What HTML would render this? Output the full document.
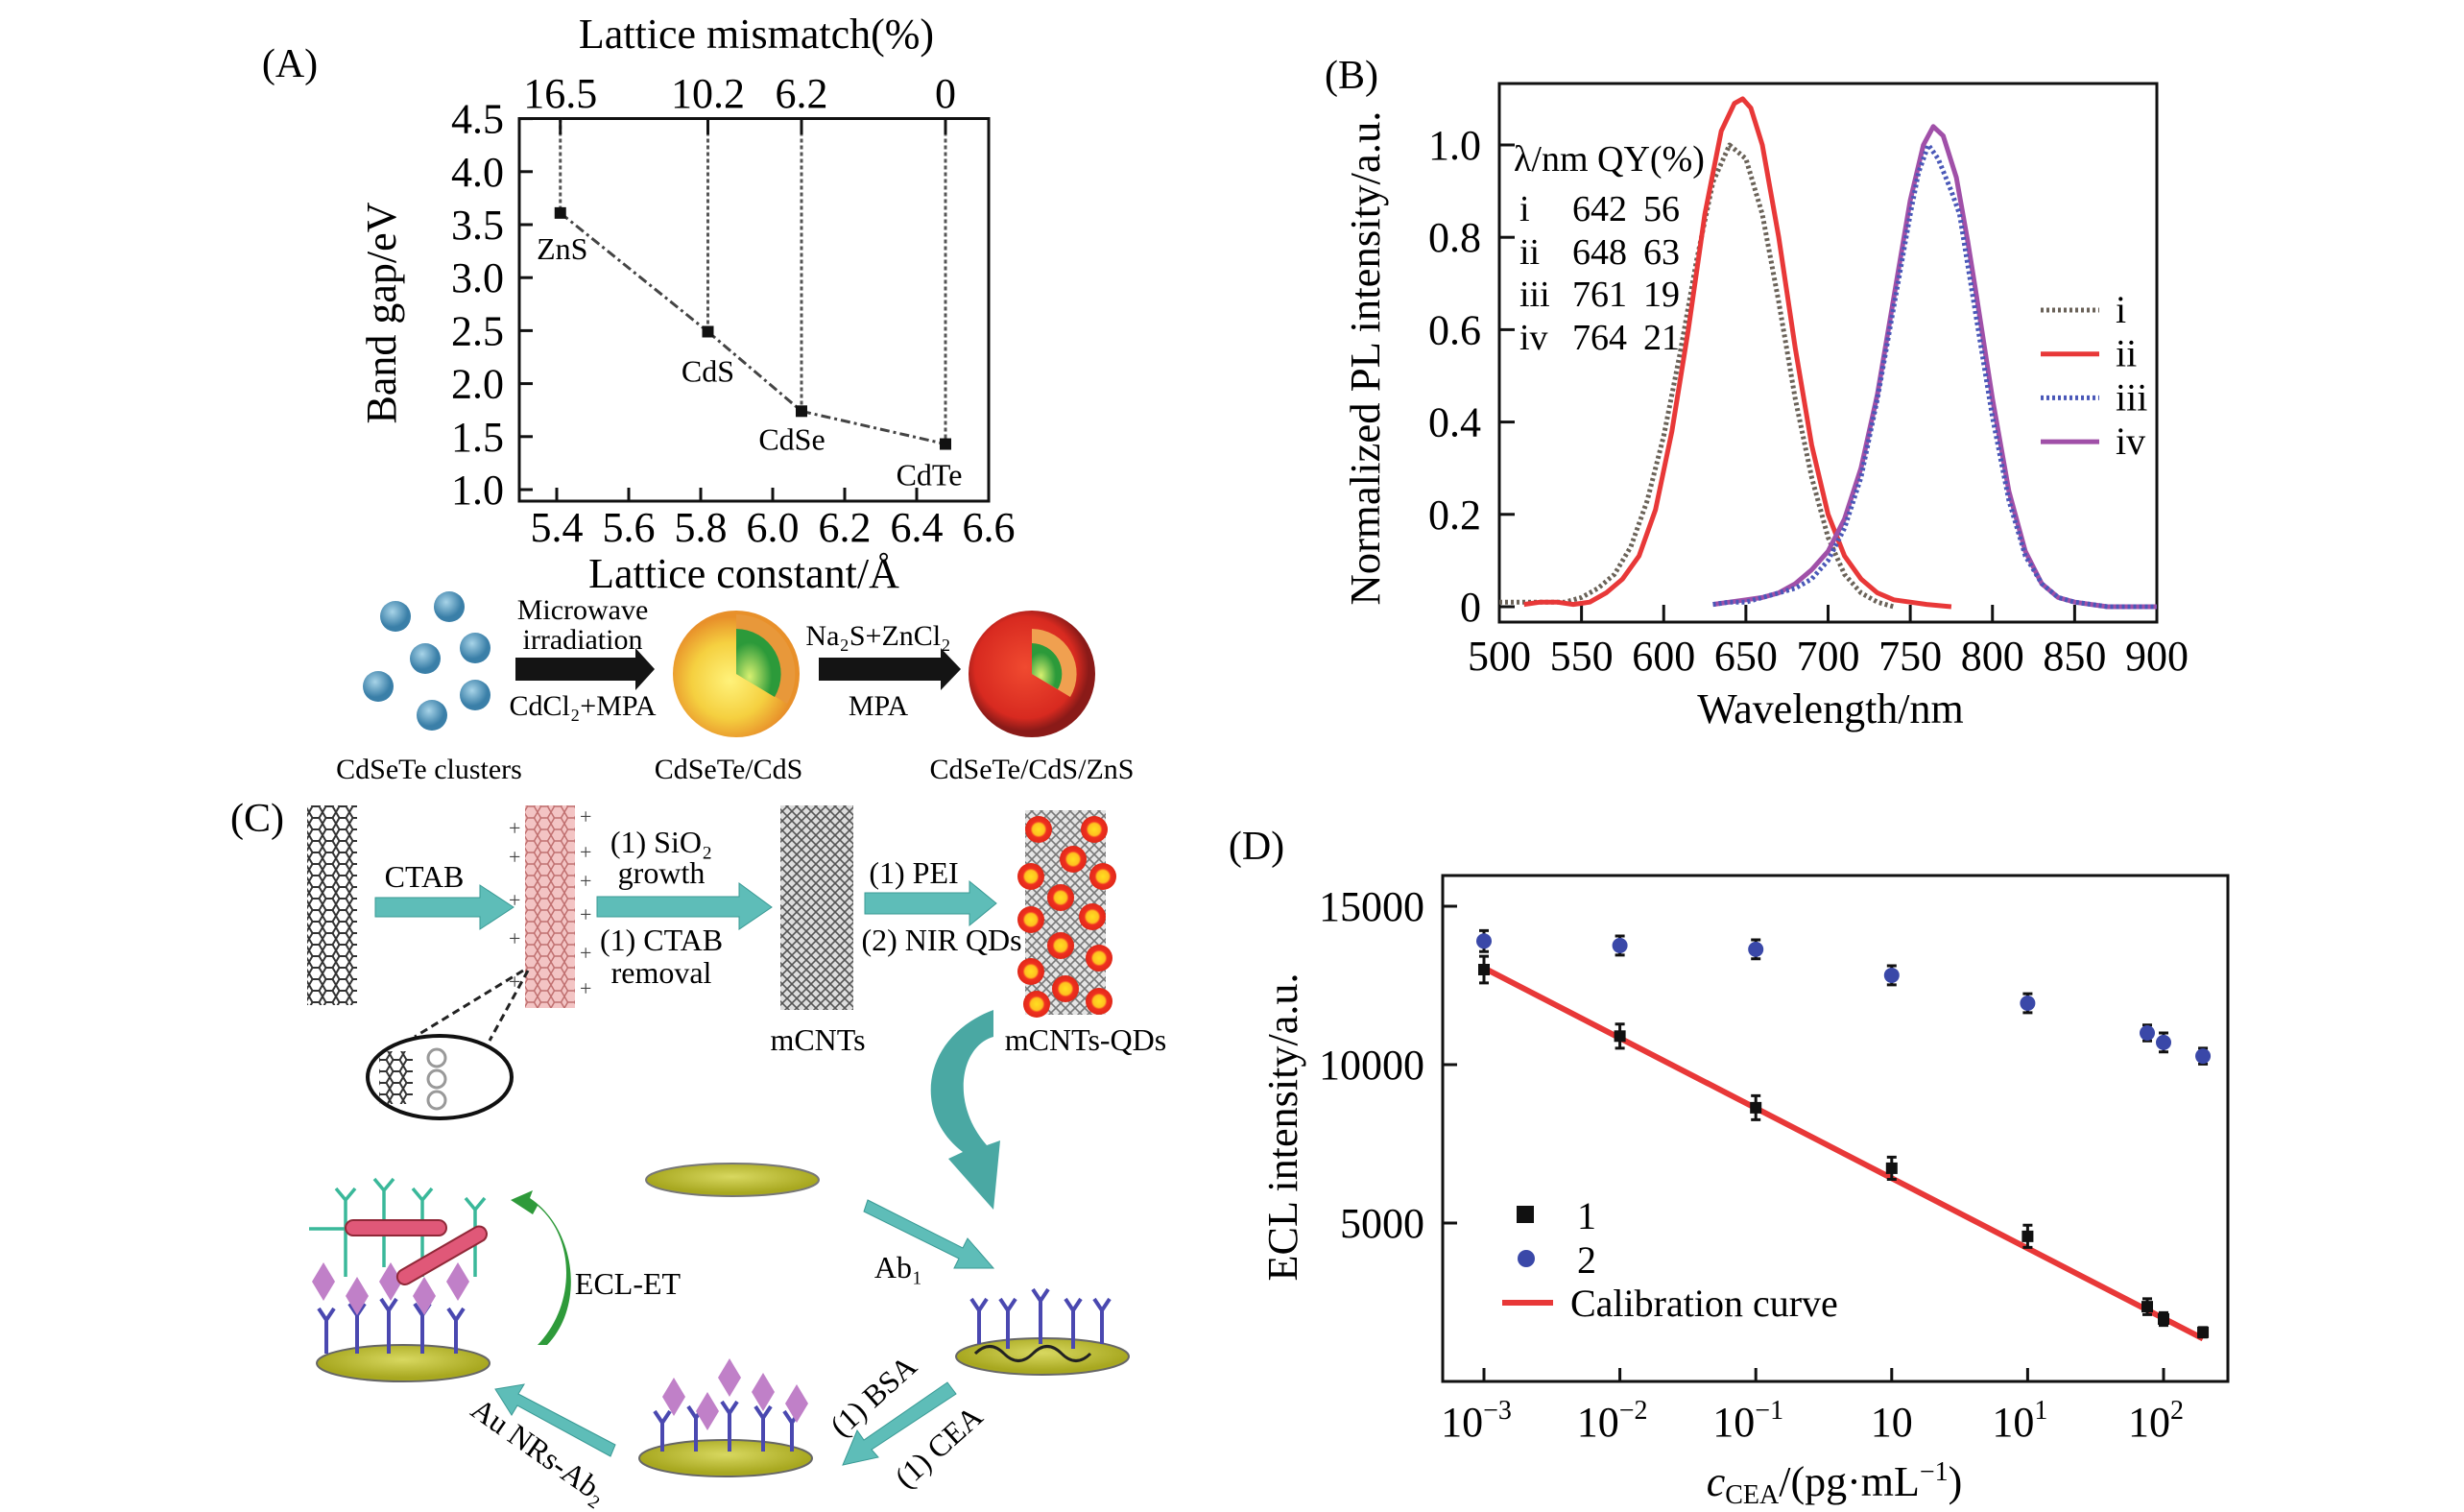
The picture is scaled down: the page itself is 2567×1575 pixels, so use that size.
<!DOCTYPE html>
<html><head><meta charset="utf-8"><style>
html,body{margin:0;padding:0;background:#fff;}
svg{display:block;font-family:"Liberation Serif","Times New Roman",serif;}
</style></head><body>
<svg id="fig" width="2567" height="1575" viewBox="0 0 2567 1575" xmlns="http://www.w3.org/2000/svg" font-family="Liberation Serif, serif">
<defs>
<pattern id="hex" width="14" height="12" patternUnits="userSpaceOnUse">
<path d="M0 6 L3.5 0 L10.5 0 L14 6 L10.5 12 L3.5 12 Z" fill="none" stroke="#333" stroke-width="2"/>
</pattern>
<pattern id="hexp" width="14" height="12" patternUnits="userSpaceOnUse">
<rect width="14" height="12" fill="#f3c4c4"/>
<path d="M0 6 L3.5 0 L10.5 0 L14 6 L10.5 12 L3.5 12 Z" fill="none" stroke="#c07070" stroke-width="1.5"/>
</pattern>
<pattern id="mesh" width="10" height="10" patternUnits="userSpaceOnUse">
<rect width="10" height="10" fill="#ddd"/>
<path d="M0 0 L10 10 M10 0 L0 10" stroke="#555" stroke-width="1.6"/>
</pattern>
<radialGradient id="blue" cx="40%" cy="35%"><stop offset="0" stop-color="#a8d4e8"/><stop offset="1" stop-color="#3a7fa8"/></radialGradient>
<radialGradient id="orng" cx="45%" cy="55%"><stop offset="0" stop-color="#fff27a"/><stop offset="0.6" stop-color="#f5d040"/><stop offset="1" stop-color="#e8902a"/></radialGradient>
<radialGradient id="redg" cx="45%" cy="45%"><stop offset="0" stop-color="#f04a30"/><stop offset="0.8" stop-color="#d82a20"/><stop offset="1" stop-color="#8a1a18"/></radialGradient>
<radialGradient id="grn" cx="30%" cy="70%"><stop offset="0" stop-color="#d8f070"/><stop offset="1" stop-color="#2c9a3a"/></radialGradient>
<radialGradient id="qd"><stop offset="0" stop-color="#ffe020"/><stop offset="0.45" stop-color="#ffc020"/><stop offset="0.6" stop-color="#f03020"/><stop offset="1" stop-color="#e02818"/></radialGradient>
<radialGradient id="gold" cx="50%" cy="40%"><stop offset="0" stop-color="#d8d860"/><stop offset="1" stop-color="#a8a820"/></radialGradient>
</defs>

<!-- ============ Panel A ============ -->
<g id="panelA" font-size="44">
<text x="302" y="80" text-anchor="middle" font-size="42">(A)</text>
<text x="788" y="50" text-anchor="middle" font-size="44">Lattice mismatch(%)</text>
<text x="775" y="612" text-anchor="middle" font-size="44">Lattice constant/Å</text>
<text transform="translate(412,326) rotate(-90)" text-anchor="middle" font-size="44">Band gap/eV</text>
<rect x="541" y="123.5" width="489" height="398.5" fill="none" stroke="#111" stroke-width="3"/>
<g id="aAxes"></g>
<g id="aMarks"></g>
</g>

<!-- Schematic A -->
<g>
<g>
<circle cx="412" cy="642" r="16" fill="url(#blue)"/><circle cx="468" cy="632" r="16" fill="url(#blue)"/>
<circle cx="443" cy="686" r="16" fill="url(#blue)"/><circle cx="495" cy="675" r="16" fill="url(#blue)"/>
<circle cx="394" cy="715" r="16" fill="url(#blue)"/><circle cx="495" cy="724" r="16" fill="url(#blue)"/>
<circle cx="450" cy="745" r="16" fill="url(#blue)"/>
</g>
<path d="M537 685 L662 685 L662 675 L682 697 L662 719 L662 709 L537 709 Z" fill="#141414"/>
<text x="607" y="645" text-anchor="middle" font-size="30">Microwave</text>
<text x="607" y="676" text-anchor="middle" font-size="30">irradiation</text>
<text x="607" y="745" text-anchor="middle" font-size="30">CdCl₂+MPA</text>
<g>
<circle cx="767" cy="702" r="66" fill="url(#orng)"/>
<path d="M767 702 L767 640 A62 62 0 0 1 820 733 Z" fill="#e8983a"/>
<path d="M767 702 L767 655 A47 47 0 0 1 807 726 Z" fill="url(#grn)"/>
</g>
<path d="M853 685 L980 685 L980 675 L1001 697 L980 719 L980 709 L853 709 Z" fill="#141414"/>
<text x="915" y="672" text-anchor="middle" font-size="30">Na₂S+ZnCl₂</text>
<text x="915" y="745" text-anchor="middle" font-size="30">MPA</text>
<g>
<circle cx="1075" cy="702" r="66" fill="url(#redg)"/>
<path d="M1075 702 L1075 655 A47 47 0 0 1 1115 726 Z" fill="#f0a050"/>
<path d="M1075 702 L1075 670 A32 32 0 0 1 1102 718 Z" fill="url(#grn)"/>
</g>
<text x="447" y="811" text-anchor="middle" font-size="30">CdSeTe clusters</text>
<text x="759" y="811" text-anchor="middle" font-size="30">CdSeTe/CdS</text>
<text x="1075" y="811" text-anchor="middle" font-size="30">CdSeTe/CdS/ZnS</text>
</g>

<!-- ============ Panel C ============ -->
<g font-size="32">
<text x="268" y="866" text-anchor="middle" font-size="42">(C)</text>
<rect x="320" y="839" width="52" height="208" fill="url(#hex)"/>
<path d="M391 935 L500 935 L500 922 L535 945 L500 968 L500 955 L391 955 Z" fill="#5ebdb8" stroke="#3a9a95"/>
<text x="442" y="924" text-anchor="middle">CTAB</text>
<rect x="547" y="839" width="52" height="211" fill="url(#hexp)"/>
<g font-size="22" fill="#444">
<text x="530" y="870">+</text><text x="530" y="900">+</text><text x="530" y="945">+</text><text x="530" y="985">+</text><text x="530" y="1030">+</text>
<text x="604" y="858">+</text><text x="604" y="895">+</text><text x="604" y="925">+</text><text x="604" y="960">+</text><text x="604" y="1000">+</text><text x="604" y="1037">+</text>
</g>
<path d="M622 934 L770 934 L770 920 L804 945 L770 968 L770 955 L622 955 Z" fill="#5ebdb8" stroke="#3a9a95"/>
<text x="689" y="888" text-anchor="middle">(1) SiO₂</text>
<text x="689" y="920" text-anchor="middle">growth</text>
<text x="689" y="990" text-anchor="middle">(1) CTAB</text>
<text x="689" y="1024" text-anchor="middle">removal</text>
<rect x="813" y="839" width="76" height="213" fill="url(#mesh)"/>
<text x="852" y="1094" text-anchor="middle">mCNTs</text>
<path d="M901 930 L1010 930 L1010 918 L1038 941 L1010 964 L1010 952 L901 952 Z" fill="#5ebdb8" stroke="#3a9a95"/>
<text x="952" y="920" text-anchor="middle">(1) PEI</text>
<text x="981" y="990" text-anchor="middle">(2) NIR QDs</text>
<g>
<rect x="1068" y="844" width="84" height="213" fill="url(#mesh)" opacity="0.8"/>
<g fill="url(#qd)">
<circle cx="1082" cy="864" r="14"/><circle cx="1140" cy="864" r="14"/><circle cx="1118" cy="895" r="14"/>
<circle cx="1074" cy="913" r="14"/><circle cx="1149" cy="913" r="14"/><circle cx="1105" cy="935" r="14"/>
<circle cx="1074" cy="958" r="14"/><circle cx="1138" cy="955" r="14"/><circle cx="1105" cy="985" r="14"/>
<circle cx="1145" cy="998" r="14"/><circle cx="1074" cy="1012" r="14"/><circle cx="1110" cy="1030" r="14"/>
<circle cx="1080" cy="1046" r="14"/><circle cx="1145" cy="1043" r="14"/>
</g></g>
<text x="1131" y="1094" text-anchor="middle">mCNTs-QDs</text>
<g>
<line x1="545" y1="1011" x2="432" y2="1080" stroke="#222" stroke-width="3" stroke-dasharray="8,5"/>
<line x1="550" y1="1011" x2="510" y2="1084" stroke="#222" stroke-width="3" stroke-dasharray="8,5"/>
<ellipse cx="458" cy="1122" rx="75" ry="43" fill="#fff" stroke="#111" stroke-width="4"/>
<rect x="395" y="1095" width="35" height="55" fill="url(#hex)"/>
<circle cx="455" cy="1102" r="9" fill="none" stroke="#999" stroke-width="3"/>
<circle cx="455" cy="1124" r="9" fill="none" stroke="#999" stroke-width="3"/>
<circle cx="455" cy="1146" r="9" fill="none" stroke="#999" stroke-width="3"/>
</g>
<path d="M1035 1052 C960 1080 950 1160 1003 1200 L988 1207 L1035 1260 L1042 1188 L1028 1193 C990 1150 1000 1090 1035 1080 Z" fill="#4aa8a3"/>
<ellipse cx="763" cy="1229" rx="90" ry="17" fill="url(#gold)" stroke="#777" stroke-width="2"/>
<path d="M904 1250 L1003 1300 L1008 1290 L1035 1321 L994 1321 L999 1311 L900 1262 Z" fill="#5ebdb8" stroke="#3a9a95"/>
<text x="936" y="1331" text-anchor="middle">Ab₁</text>
<g>
<ellipse cx="1086" cy="1413" rx="90" ry="19" fill="url(#gold)" stroke="#666" stroke-width="2"/>
<path d="M1016 1410 q15 -15 30 0 t30 0 t30 0 t30 0" fill="none" stroke="#222" stroke-width="3"/>
<g stroke="#4a48b0" stroke-width="4" fill="none">
<path d="M1020 1400 v-35 m0 0 l-8 -12 m8 12 l8 -12"/><path d="M1050 1405 v-40 m0 0 l-8 -12 m8 12 l8 -12"/>
<path d="M1084 1400 v-45 m0 0 l-8 -12 m8 12 l8 -12"/><path d="M1118 1405 v-40 m0 0 l-8 -12 m8 12 l8 -12"/>
<path d="M1148 1400 v-35 m0 0 l-8 -12 m8 12 l8 -12"/>
</g></g>
<path d="M987 1440 L900 1500 L893 1490 L878 1526 L915 1518 L908 1510 L996 1452 Z" fill="#5ebdb8" stroke="#3a9a95"/>
<text transform="translate(917,1462) rotate(-42)" text-anchor="middle">(1) BSA</text>
<text transform="translate(985,1515) rotate(-42)" text-anchor="middle">(1) CEA</text>
<g>
<ellipse cx="756" cy="1519" rx="90" ry="19" fill="url(#gold)" stroke="#666" stroke-width="2"/>
<g stroke="#4a48b0" stroke-width="4" fill="none">
<path d="M690 1512 v-30 m0 0 l-8 -12 m8 12 l8 -12"/><path d="M725 1512 v-35 m0 0 l-8 -12 m8 12 l8 -12"/>
<path d="M760 1512 v-40 m0 0 l-8 -12 m8 12 l8 -12"/><path d="M795 1512 v-35 m0 0 l-8 -12 m8 12 l8 -12"/>
<path d="M825 1512 v-30 m0 0 l-8 -12 m8 12 l8 -12"/>
</g>
<g fill="#c080c8">
<path d="M690 1455 l12 -20 l12 20 l-12 20 Z"/><path d="M725 1470 l12 -20 l12 20 l-12 20 Z"/>
<path d="M748 1435 l12 -20 l12 20 l-12 20 Z"/><path d="M783 1450 l12 -20 l12 20 l-12 20 Z"/>
<path d="M818 1462 l12 -20 l12 20 l-12 20 Z"/>
</g></g>
<path d="M641 1505 L540 1452 L546 1442 L516 1447 L533 1474 L539 1464 L636 1517 Z" fill="#5ebdb8" stroke="#3a9a95"/>
<text transform="translate(556,1520) rotate(35)" text-anchor="middle">Au NRs-Ab₂</text>
<g>
<ellipse cx="420" cy="1420" rx="90" ry="19" fill="url(#gold)" stroke="#666" stroke-width="2"/>
<g stroke="#4a48b0" stroke-width="4" fill="none">
<path d="M340 1410 v-35 m0 0 l-8 -12 m8 12 l8 -12"/><path d="M372 1410 v-40 m0 0 l-8 -12 m8 12 l8 -12"/>
<path d="M405 1410 v-45 m0 0 l-8 -12 m8 12 l8 -12"/><path d="M440 1410 v-40 m0 0 l-8 -12 m8 12 l8 -12"/>
<path d="M475 1410 v-35 m0 0 l-8 -12 m8 12 l8 -12"/>
</g>
<g fill="#c080c8">
<path d="M325 1335 l12 -20 l12 20 l-12 20 Z"/><path d="M360 1350 l12 -20 l12 20 l-12 20 Z"/>
<path d="M395 1335 l12 -20 l12 20 l-12 20 Z"/><path d="M430 1350 l12 -20 l12 20 l-12 20 Z"/>
<path d="M465 1335 l12 -20 l12 20 l-12 20 Z"/>
</g>
<g stroke="#3ab89a" stroke-width="3.5" fill="none">
<path d="M360 1330 v-80 m0 0 l-10 -12 m10 12 l10 -12"/><path d="M400 1320 v-80 m0 0 l-10 -12 m10 12 l10 -12"/>
<path d="M440 1330 v-80 m0 0 l-10 -12 m10 12 l10 -12"/><path d="M495 1330 v-70 m0 0 l-10 -12 m10 12 l10 -12"/>
<path d="M322 1280 h40"/>
</g>
<rect x="360" y="1271" width="105" height="16" rx="8" fill="#e05878" stroke="#902838" stroke-width="2"/>
<rect x="408" y="1300" width="105" height="16" rx="8" fill="#e05878" stroke="#902838" stroke-width="2" transform="rotate(-30 460 1308)"/>
</g>
<path d="M560 1401 C600 1360 600 1290 560 1256 L555 1265 L532 1250 L555 1240 L552 1248 C600 1280 610 1360 570 1401 Z" fill="#2e9a3a"/>
<text x="654" y="1348" text-anchor="middle">ECL-ET</text>
</g>

<!-- ============ Panel B ============ -->
<g id="panelB" font-size="44">
<text x="1408" y="92" text-anchor="middle" font-size="42">(B)</text>
<text x="1907" y="753" text-anchor="middle" font-size="44">Wavelength/nm</text>
<text transform="translate(1437,373) rotate(-90)" text-anchor="middle" font-size="44" textLength="515" lengthAdjust="spacingAndGlyphs">Normalized PL intensity/a.u.</text>
<rect x="1562" y="87" width="685" height="561" fill="none" stroke="#111" stroke-width="3"/>
<g id="bAxes"></g>
<g id="bMarks"></g>
<g font-size="38">
<text x="1577" y="178">λ/nm QY(%)</text>
<text x="1583" y="230">i</text><text x="1638" y="230">642</text><text x="1712" y="230">56</text>
<text x="1583" y="275">ii</text><text x="1638" y="275">648</text><text x="1712" y="275">63</text>
<text x="1583" y="319">iii</text><text x="1638" y="319">761</text><text x="1712" y="319">19</text>
<text x="1583" y="364">iv</text><text x="1638" y="364">764</text><text x="1712" y="364">21</text>
</g>
<g id="bLegend" font-size="40"></g>
</g>

<!-- ============ Panel D ============ -->
<g id="panelD" font-size="44">
<text x="1309" y="895" text-anchor="middle" font-size="42">(D)</text>
<text x="1911" y="1558" text-anchor="middle" font-size="44"><tspan font-style="italic">c</tspan><tspan font-size="28" dy="8">CEA</tspan><tspan dy="-8">/(pg·mL</tspan><tspan font-size="28" dy="-16">−1</tspan><tspan dy="16">)</tspan></text>
<text transform="translate(1351,1174) rotate(-90)" text-anchor="middle" font-size="44" textLength="321" lengthAdjust="spacingAndGlyphs">ECL intensity/a.u.</text>
<rect x="1503" y="912" width="818" height="527" fill="none" stroke="#111" stroke-width="3"/>
<g id="dAxes"></g>
<g id="dMarks"></g>
<g>
<rect x="1580" y="1256" width="18" height="18" fill="#111"/>
<text x="1643" y="1280" font-size="40">1</text>
<circle cx="1590" cy="1311" r="9" fill="#3a48a8"/>
<text x="1643" y="1326" font-size="40">2</text>
<line x1="1565" y1="1357" x2="1618" y2="1357" stroke="#e83838" stroke-width="6"/>
<text x="1636" y="1371" font-size="40">Calibration curve</text>
</g>
</g>

<script>
// ---------- Panel A data ----------
const aXTicks = [5.4, 5.6, 5.8, 6.0, 6.2, 6.4, 6.6];
const aYTicks = [1.0, 1.5, 2.0, 2.5, 3.0, 3.5, 4.0, 4.5];
const aMaterials = ["ZnS", "CdS", "CdSe", "CdTe"];
const aLattice = [5.41, 5.82, 6.08, 6.48];
const aBandGap = [3.61, 2.49, 1.74, 1.43];
const aMismatch = ["16.5", "10.2", "6.2", "0"];
// ---------- Panel B data ----------
const bXTicks = [500, 550, 600, 650, 700, 750, 800, 850, 900];
const bYTicks = [0, 0.2, 0.4, 0.6, 0.8, 1.0];
const bYTickLabels = ["0", "0.2", "0.4", "0.6", "0.8", "1.0"];
const bSeriesNames = ["i", "ii", "iii", "iv"];
const bWaveI = [500,510,520,530,540,550,560,570,580,590,600,610,620,630,640,650,660,670,680,690,700,710,720,730,740];
const bValsI = [0.01,0.01,0.01,0.01,0.01,0.02,0.04,0.07,0.13,0.23,0.37,0.55,0.75,0.92,1.0,0.97,0.85,0.66,0.45,0.28,0.15,0.07,0.03,0.01,0.0];
const bWaveII = [515,525,535,545,555,565,575,585,595,605,615,625,635,643,648,653,660,670,680,690,700,710,720,730,740,750,760,775];
const bValsII = [0.005,0.01,0.01,0.005,0.01,0.03,0.06,0.11,0.21,0.38,0.6,0.85,1.03,1.09,1.1,1.08,1.0,0.8,0.56,0.35,0.2,0.11,0.06,0.03,0.015,0.01,0.005,0.0];
const bWaveIII = [630,640,650,660,670,680,690,700,710,720,730,740,750,755,761,767,775,780,790,800,810,820,830,840,850,860,870,880,890,900];
const bValsIII = [0.005,0.01,0.01,0.02,0.03,0.04,0.06,0.1,0.17,0.28,0.45,0.65,0.85,0.94,1.0,0.97,0.9,0.85,0.63,0.41,0.23,0.11,0.05,0.02,0.01,0.005,0.0,0.0,0.0,0.0];
const bWaveIV = [630,640,650,660,670,680,690,700,710,720,730,740,750,758,764,770,778,785,790,800,810,820,830,840,850,860,870,880,890,900];
const bValsIV = [0.005,0.01,0.015,0.02,0.03,0.05,0.08,0.12,0.19,0.3,0.46,0.67,0.88,1.0,1.04,1.02,0.93,0.79,0.68,0.45,0.25,0.12,0.05,0.02,0.01,0.005,0.0,0.0,0.0,0.0];
// ---------- Panel D data ----------
const dXTickLabels = [["10","−3"],["10","−2"],["10","−1"],["10",""],["10","1"],["10","2"]];
const dYTicks = [5000, 10000, 15000];
const dXPos = [0, 1, 2, 3, 4, 4.88, 5, 5.29];
const dSeries1 = [13000, 10900, 8640, 6730, 4580, 2360, 1970, 1550];
const dSeries2 = [13900, 13760, 13640, 12820, 11940, 11000, 10700, 10270];
const dErr1 = [420, 380, 380, 350, 350, 250, 200, 150];
const dErr2 = [330, 300, 300, 300, 300, 250, 300, 250];
const dFitX = [0, 5.29];
const dFitY = [13050, 1350];

const NS = "http://www.w3.org/2000/svg";
function mk(tag, attrs, parent) {
  const e = document.createElementNS(NS, tag);
  for (const k in attrs) e.setAttribute(k, attrs[k]);
  parent.appendChild(e);
  return e;
}

// ----- Panel A -----
const aX = v => 580 + (v - 5.4) / 0.2 * 75;
const aY = v => 510 - (v - 1.0) / 0.5 * 55.2;
const aAxes = document.getElementById("aAxes");
const aMarks = document.getElementById("aMarks");
aXTicks.forEach(t => {
  if (t < 6.6) {
    const l = mk("line", {x1: aX(t), x2: aX(t), y1: 522, y2: 508, stroke: "#111", "stroke-width": 3}, aAxes);
    
    
  }
  const tx = mk("text", {x: aX(t), y: 564, "text-anchor": "middle"}, aAxes);
  tx.textContent = t.toFixed(1);
  
  
});
aYTicks.forEach(t => {
  const l = mk("line", {x1: 541, x2: 555, y1: aY(t), y2: aY(t), stroke: "#111", "stroke-width": 3}, aAxes);
  
  
  const tx = mk("text", {x: 525, y: aY(t) + 15, "text-anchor": "end"}, aAxes);
  tx.textContent = t.toFixed(1);
  
  
});
const aLabelOff = [[2, 48], [0, 52], [-10, 40], [-17, 43]];
aMaterials.forEach((m, i) => {
  const x = aX(aLattice[i]);
  const vl = mk("line", {x1: x, x2: x, y1: 123.5, y2: aY(aBandGap[i]), stroke: "#555", "stroke-width": 3, "stroke-dasharray": "4,3"}, aMarks);
  
  
  const tt = mk("line", {x1: x, x2: x, y1: 123.5, y2: 140, stroke: "#111", "stroke-width": 3}, aMarks);
  
  
  const tl = mk("text", {x: x, y: 112, "text-anchor": "middle"}, aMarks);
  tl.textContent = aMismatch[i];
  
  
  if (i < aMaterials.length - 1) {
    const cl = mk("line", {x1: x, y1: aY(aBandGap[i]), x2: aX(aLattice[i + 1]), y2: aY(aBandGap[i + 1]), stroke: "#444", "stroke-width": 3, "stroke-dasharray": "10,4,3,4"}, aMarks);
    
    
  }
  const p = mk("rect", {x: x - 6, y: aY(aBandGap[i]) - 6, width: 12, height: 12, fill: "#111"}, aMarks);
  
  
  const lb = mk("text", {x: x + aLabelOff[i][0], y: aY(aBandGap[i]) + aLabelOff[i][1], "text-anchor": "middle", "font-size": "32"}, aMarks);
  lb.textContent = m;
  
  
});

// ----- Panel B -----
const bX = v => 1562 + (v - 500) / 400 * 685;
const bY = v => 632 - v / 1.0 * 481;
const bAxes = document.getElementById("bAxes");
const bMarks = document.getElementById("bMarks");
bXTicks.forEach(t => {
  if (t > 500 && t < 900) {
    const l = mk("line", {x1: bX(t), x2: bX(t), y1: 648, y2: 630, stroke: "#111", "stroke-width": 3}, bAxes);
    
    
  }
  const tx = mk("text", {x: bX(t), y: 698, "text-anchor": "middle"}, bAxes);
  tx.textContent = String(t);
  
  
});
bYTicks.forEach((t, i) => {
  const l = mk("line", {x1: 1562, x2: 1578, y1: bY(t), y2: bY(t), stroke: "#111", "stroke-width": 3}, bAxes);
  
  
  const tx = mk("text", {x: 1543, y: bY(t) + 15, "text-anchor": "end"}, bAxes);
  tx.textContent = bYTickLabels[i];
  
  
});
const bStyles = [
  {stroke: "#6a6258", "stroke-width": 5, "stroke-dasharray": "3,3"},
  {stroke: "#e83838", "stroke-width": 5},
  {stroke: "#4a58b8", "stroke-width": 5, "stroke-dasharray": "3,3"},
  {stroke: "#a050a8", "stroke-width": 5}
];
const bWaves = [bWaveI, bWaveII, bWaveIII, bWaveIV];
const bVals = [bValsI, bValsII, bValsIII, bValsIV];
const drawOrder = [0, 1, 3, 2];
drawOrder.forEach(s => {
  const pts = bWaves[s].map((w, j) => bX(w).toFixed(1) + "," + bY(bVals[s][j]).toFixed(1)).join(" ");
  const attrs = Object.assign({points: pts, fill: "none", "stroke-linejoin": "round"}, bStyles[s]);
  const pl = mk("polyline", attrs, bMarks);
  
  
});
const bLegend = document.getElementById("bLegend");
bSeriesNames.forEach((n, i) => {
  const ly = 323 + i * 45.7;
  const ln = mk("line", Object.assign({x1: 2126, x2: 2187, y1: ly, y2: ly}, bStyles[i]), bLegend);
  
  
  const t = mk("text", {x: 2204, y: ly + 13}, bLegend);
  t.textContent = n;
  
  
});

// ----- Panel D -----
const dX = v => 1546 + v * 141.6;
const dY = v => 1439 - v * 0.033;
const dAxes = document.getElementById("dAxes");
const dMarks = document.getElementById("dMarks");
dXTickLabels.forEach((lab, i) => {
  const l = mk("line", {x1: dX(i), x2: dX(i), y1: 1439, y2: 1425, stroke: "#111", "stroke-width": 3}, dAxes);
  
  
  const tx = mk("text", {x: dX(i) - (lab[1] ? 8 : 0), y: 1496, "text-anchor": "middle"}, dAxes);
  
  
  const t1 = mk("tspan", {}, tx); t1.textContent = lab[0];
  if (lab[1]) { const t2 = mk("tspan", {dy: -18, "font-size": 28}, tx); t2.textContent = lab[1]; }
});
dYTicks.forEach(t => {
  const l = mk("line", {x1: 1503, x2: 1518, y1: dY(t), y2: dY(t), stroke: "#111", "stroke-width": 3}, dAxes);
  
  
  const tx = mk("text", {x: 1484, y: dY(t) + 15, "text-anchor": "end"}, dAxes);
  tx.textContent = String(t);
  
  
});
function errbar(x, v, e, name) {
  const g = mk("path", {d: `M${x} ${dY(v - e)} V${dY(v + e)} M${x - 5} ${dY(v - e)} h10 M${x - 5} ${dY(v + e)} h10`, stroke: "#111", "stroke-width": 3, fill: "none"}, dMarks);
  
  
}
dXPos.forEach((xp, i) => {
  errbar(dX(xp), dSeries2[i], dErr2[i], 'error-bar-2');
  const c = mk("circle", {cx: dX(xp), cy: dY(dSeries2[i]), r: 8, fill: "#3a48a8"}, dMarks);
  
  
});
const fit = mk("line", {x1: dX(dFitX[0]), y1: dY(dFitY[0]), x2: dX(dFitX[1]), y2: dY(dFitY[1]), stroke: "#e83838", "stroke-width": 6}, dMarks);


dXPos.forEach((xp, i) => {
  errbar(dX(xp), dSeries1[i], dErr1[i], 'error-bar-1');
  const r = mk("rect", {x: dX(xp) - 6, y: dY(dSeries1[i]) - 6, width: 12, height: 12, fill: "#111"}, dMarks);
  
  
});
</script>
</svg>
</body></html>
